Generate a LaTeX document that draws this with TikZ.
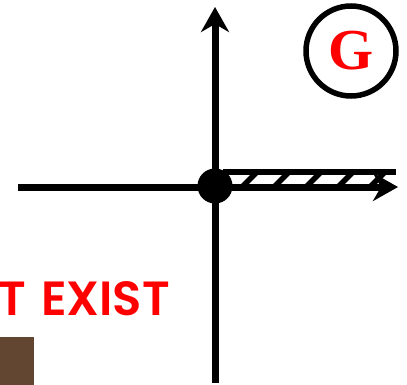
\documentclass[tikz,border=0pt]{standalone}
\usepackage{fontspec}
\newfontfamily\bannerfont{Poppins SemiBold}
\newfontfamily\letterfont{Liberation Serif}
\usetikzlibrary{arrows.meta}
\definecolor{cred}{HTML}{FF0000}
\definecolor{cbrown}{HTML}{634631}
\newcommand\widespace{\spaceskip 15pt\relax}
\tikzset{
  axis/.style={line width=7pt, -{Stealth[length=25pt, width=28pt, inset=8pt]}},
  hatch/.style={line width=5.5pt},
  dot/.style={circle, fill=black, inner sep=0pt, minimum size=35pt},
  badge/.style={circle, draw=black, line width=5.5pt, minimum size=90pt, inner sep=0pt, text=cred, font=\letterfont\bfseries\fontsize{58}{58}\selectfont},
  banner/.style={text=cred, inner sep=0pt, font={\bannerfont\fontsize{48}{48}\selectfont\widespace}},
}

\begin{document}
\begin{tikzpicture}[x=1pt, y=-1pt]
  \useasboundingbox (0,0) rectangle (407,385);
  % brown block, bottom left
  \fill[cbrown] (0,337) rectangle (34,385);
  % axes
  \coordinate (xl) at (18,187);
  \coordinate (xr) at (398,187);
  \coordinate (yb) at (215,383);
  \coordinate (yt) at (215,7);
  \draw[axis] (yb) -- (yt);
  % hatched ray on the positive side
  \draw[hatch] (223,172) -- (396,172);
  \foreach \x in {243,275,307,339,371} { \draw[hatch] (\x,186) -- (\x+14,172); }
  \draw[axis] (xl) -- (xr);
  \node[dot] (origin) at (215,186) {};
  % label
  \node[badge] (gnode) at (351,51) {G};
  \node[banner, anchor=base east] (nexist) at (170,315) {OT EXIST};
\end{tikzpicture}
\end{document}
